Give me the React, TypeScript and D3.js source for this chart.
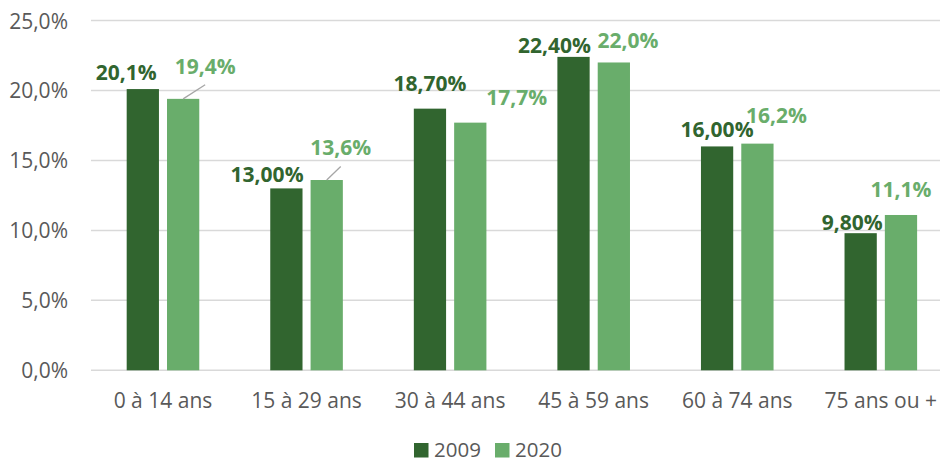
import React from "react";
import * as d3 from "d3";

const categories = ["0 à 14 ans", "15 à 29 ans", "30 à 44 ans", "45 à 59 ans", "60 à 74 ans", "75 ans ou +"];
const seriesNames = ["2009", "2020"];
const values2009 = [20.1, 13.0, 18.7, 22.4, 16.0, 9.8];
const values2020 = [19.4, 13.6, 17.7, 22.0, 16.2, 11.1];
const labels2009 = ["20,1%", "13,00%", "18,70%", "22,40%", "16,00%", "9,80%"];
const labels2020 = ["19,4%", "13,6%", "17,7%", "22,0%", "16,2%", "11,1%"];
const yTicks = [0, 5, 10, 15, 20, 25];
const yTickLabels = ["0,0%", "5,0%", "10,0%", "15,0%", "20,0%", "25,0%"];

// label nudges (dx from bar center, dy from bar top to baseline), as placed in the original
const nudges2009 = [[-16.5, -8.6], [-19.3, -6.3], [0, -17.5], [-19, -3.7], [0, -9.3], [-8.5, -3.5]];
const nudges2020 = [[22, -25.1], [14, -24.6], [46.5, -17.2], [14, -14.3], [19, -20.5], [0, -17.9]];
const leaders2020 = [true, true, false, false, false, false];

const colors = ["#31652f", "#69ad6b"];
const FONT = "'Open Sans', sans-serif";

export default function App() {
  const W = 940, H = 463;
  const x0 = d3.scaleBand<string>().domain(categories).range([91.2, 952.6]).paddingInner(0).paddingOuter(0);
  const x1 = d3.scaleBand<string>().domain(seriesNames).range([0, x0.bandwidth()]).paddingInner(0.2).paddingOuter(0.88);
  const y = d3.scaleLinear().domain([0, 25]).range([370.3, 20.5]);

  const series = [
    { name: "2009", values: values2009, labels: labels2009, nudges: nudges2009, leaders: [false, false, false, false, false, false] },
    { name: "2020", values: values2020, labels: labels2020, nudges: nudges2020, leaders: leaders2020 },
  ];

  return (
    <svg width={W} height={H} style={{ position: "absolute", left: 0, top: 0, background: "#fff" }} fontFamily={FONT}>
      {yTicks.map((t, i) => (
        <g key={t}>
          <line x1={91} x2={W} y1={y(t)} y2={y(t)} stroke="#d9d9d9" strokeWidth={1.5} />
          <text x={68} y={y(t) + 8} textAnchor="end" fontSize={21} fill="#595959">{yTickLabels[i]}</text>
        </g>
      ))}
      {series.map((s, si) =>
        categories.map((c, ci) => {
          const bx = (x0(c) as number) + (x1(s.name) as number);
          const bw = x1.bandwidth();
          const top = y(s.values[ci]);
          return (
            <rect key={s.name + c} x={bx} y={top} width={bw} height={y(0) - top} fill={colors[si]} />
          );
        })
      )}
      {series.map((s, si) =>
        categories.map((c, ci) => {
          const cx = (x0(c) as number) + (x1(s.name) as number) + x1.bandwidth() / 2;
          const top = y(s.values[ci]);
          const lx = cx + s.nudges[ci][0];
          const ly = top + s.nudges[ci][1];
          return (
            <g key={"l" + s.name + c}>
              {s.leaders[ci] && (
                <line x1={cx} y1={top} x2={lx} y2={ly + 11} stroke="#a6a6a6" strokeWidth={1.3} />
              )}
              <text x={lx} y={ly} textAnchor="middle" fontSize={21} fontWeight="bold" fill={colors[si]}>
                {s.labels[ci]}
              </text>
            </g>
          );
        })
      )}
      {categories.map((c) => (
        <text key={"x" + c} x={(x0(c) as number) + x0.bandwidth() / 2} y={408} textAnchor="middle" fontSize={21} fill="#595959">
          {c}
        </text>
      ))}
      {seriesNames.map((n, i) => {
        const lx = 414 + i * 81;
        return (
          <g key={"leg" + n}>
            <rect x={lx} y={443} width={14.5} height={14.5} fill={colors[i]} />
            <text x={lx + 20} y={456.5} fontSize={20.5} fill="#595959">{n}</text>
          </g>
        );
      })}
    </svg>
  );
}
